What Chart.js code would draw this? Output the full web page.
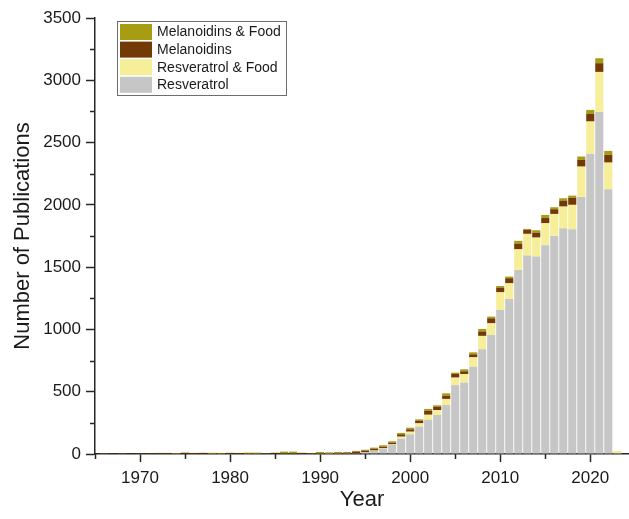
<!DOCTYPE html>
<html>
<head>
<meta charset="utf-8">
<script src="https://cdn.jsdelivr.net/npm/chart.js@4/dist/chart.umd.min.js"></script>
<style>
  html, body { margin: 0; padding: 0; background: #ffffff; }
  #wrap { width: 629px; height: 519px; }
</style>
</head>
<body>
<div id="wrap"><canvas id="c" width="629" height="519"></canvas></div>
<script>
// ---- Data ----
const years = [
  1965, 1966, 1967, 1968, 1969, 1970, 1971, 1972, 1973, 1974,
  1975, 1976, 1977, 1978, 1979, 1980, 1981, 1982, 1983, 1984,
  1985, 1986, 1987, 1988, 1989, 1990, 1991, 1992, 1993, 1994,
  1995, 1996, 1997, 1998, 1999, 2000, 2001, 2002, 2003, 2004,
  2005, 2006, 2007, 2008, 2009, 2010, 2011, 2012, 2013, 2014,
  2015, 2016, 2017, 2018, 2019, 2020, 2021, 2022, 2023
];
const resveratrol = [
  0, 0, 0, 0, 0, 0, 0, 0, 0, 0,
  0, 0, 0, 0, 0, 0, 0, 0, 0, 0,
  0, 0, 0, 0, 0, 0, 1, 2, 2, 5,
  12, 26, 44, 72, 123, 158, 219, 275, 313, 393,
  553, 573, 701, 840, 956, 1156, 1245, 1478, 1593, 1585,
  1676, 1751, 1813, 1804, 2064, 2409, 2746, 2125, 5
];
const resveratrolFood = [
  0, 0, 0, 0, 0, 0, 0, 0, 0, 0,
  0, 0, 0, 0, 0, 0, 0, 0, 0, 0,
  0, 0, 0, 0, 0, 0, 0, 0, 0, 1,
  1, 2, 3, 5, 16, 21, 27, 40, 40, 49,
  60, 69, 75, 108, 93, 142, 125, 165, 174, 152,
  176, 176, 173, 196, 243, 260, 321, 214, 20
];
const melanoidins = [
  0, 6, 2, 6, 2, 3, 2, 7, 7, 3,
  9, 7, 8, 3, 3, 7, 7, 3, 3, 4,
  8, 5, 5, 8, 4, 4, 7, 5, 10, 14,
  15, 13, 12, 14, 19, 19, 22, 33, 27, 26,
  29, 22, 24, 36, 40, 38, 41, 46, 32, 40,
  42, 38, 48, 56, 54, 61, 70, 62, 0
];
const melanoidinsFood = [
  0, 2, 0, 2, 0, 1, 1, 2, 2, 5,
  3, 2, 2, 6, 6, 3, 2, 8, 8, 2,
  3, 14, 14, 2, 3, 12, 5, 9, 4, 5,
  6, 10, 11, 11, 11, 13, 10, 14, 11, 19,
  11, 16, 16, 20, 14, 13, 13, 22, 8, 19,
  25, 16, 19, 18, 27, 32, 40, 32, 0
];
const yTickValues = [0, 500, 1000, 1500, 2000, 2500, 3000, 3500];
const xTickValues = [1970, 1980, 1990, 2000, 2010, 2020];
const xMinorTicks = [1965, 1975, 1985, 1995, 2005, 2015];
const yMinorTicks = [250, 750, 1250, 1750, 2250, 2750, 3250];

// ---- Styles ----
const AXIS_COLOR = '#262626';
const TEXT_COLOR = '#1a1a1a';
const FONT = "'Liberation Sans', Arial, Helvetica, sans-serif";
Chart.defaults.font.family = FONT;

const toXY = arr => arr.map((v, i) => ({ x: years[i], y: v }));

// minor ticks drawn through the scales
const minorTicks = {
  id: 'minorTicks',
  afterDraw(chart) {
    const { ctx, scales: { x, y } } = chart;
    ctx.save();
    ctx.strokeStyle = AXIS_COLOR;
    ctx.lineWidth = 1.5;
    ctx.beginPath();
    xMinorTicks.forEach(v => {
      const px = Math.round(x.getPixelForValue(v)) + 0.5;
      ctx.moveTo(px, x.top);
      ctx.lineTo(px, x.top + 5);
    });
    yMinorTicks.forEach(v => {
      const py = Math.round(y.getPixelForValue(v)) + 0.5;
      ctx.moveTo(y.right - 5, py);
      ctx.lineTo(y.right, py);
    });
    ctx.stroke();
    ctx.restore();
  }
};

// legend box inside the plot (top-left), built from the datasets
const legendBox = {
  id: 'legendBox',
  afterDraw(chart) {
    const ctx = chart.ctx;
    const left = 117, top = 21, width = 169, height = 74;
    const swW = 32, swH = 16, rowH = 17.6;
    ctx.save();
    ctx.fillStyle = '#ffffff';
    ctx.fillRect(left, top, width, height);
    ctx.strokeStyle = '#6e6e6e';
    ctx.lineWidth = 1;
    ctx.strokeRect(left + 0.5, top + 0.5, width, height);
    const ds = chart.data.datasets.slice().reverse();
    ctx.font = '14px ' + FONT;
    ctx.textBaseline = 'middle';
    ctx.textAlign = 'left';
    ds.forEach((d, i) => {
      const y = top + 3 + i * rowH;
      ctx.fillStyle = d.backgroundColor;
      ctx.fillRect(left + 3, y, swW, swH);
      ctx.fillStyle = TEXT_COLOR;
      ctx.fillText(d.label, left + 40, y + swH / 2 + 0.5);
    });
    ctx.restore();
  }
};

new Chart(document.getElementById('c'), {
  type: 'bar',
  data: {
    datasets: [
      { label: 'Resveratrol', data: toXY(resveratrol), backgroundColor: '#C6C6C6' },
      { label: 'Resveratrol & Food', data: toXY(resveratrolFood), backgroundColor: '#F6EE98' },
      { label: 'Melanoidins', data: toXY(melanoidins), backgroundColor: '#733A07' },
      { label: 'Melanoidins & Food', data: toXY(melanoidinsFood), backgroundColor: '#A79D13' }
    ]
  },
  options: {
    responsive: false,
    animation: false,
    devicePixelRatio: 1,
    layout: { padding: { top: 18, right: 0, bottom: 0, left: 0 } },
    datasets: { bar: { categoryPercentage: 1, barPercentage: 0.9, borderWidth: 0 } },
    plugins: { legend: { display: false }, tooltip: { enabled: false } },
    scales: {
      x: {
        type: 'linear',
        stacked: true,
        min: 1965,
        max: 2024.3,
        offset: false,
        grid: { display: true, drawOnChartArea: false, drawTicks: true, offset: false,
                tickLength: 8, tickColor: AXIS_COLOR, tickWidth: 1.5 },
        border: { display: true, color: AXIS_COLOR, width: 1.5 },
        afterBuildTicks: s => { s.ticks = xTickValues.map(v => ({ value: v })); },
        ticks: { padding: 6, color: TEXT_COLOR, font: { size: 17 }, maxRotation: 0,
                 autoSkip: false, callback: v => String(v) },
        title: { display: true, text: 'Year', color: TEXT_COLOR, font: { size: 22 },
                 padding: { top: 0, bottom: 6 } },
        afterFit: s => { s.height = 65; }
      },
      y: {
        stacked: true,
        min: 0,
        max: 3500,
        grid: { display: true, drawOnChartArea: false, drawTicks: true,
                tickLength: 9, tickColor: AXIS_COLOR, tickWidth: 1.5 },
        border: { display: true, color: AXIS_COLOR, width: 1.5 },
        afterBuildTicks: s => { s.ticks = yTickValues.map(v => ({ value: v })); },
        ticks: { padding: 5, color: TEXT_COLOR, font: { size: 17 }, callback: v => String(v) },
        title: { display: true, text: 'Number of Publications', color: TEXT_COLOR,
                 font: { size: 22 }, padding: { top: 10, bottom: 0 } },
        afterFit: s => { s.width = 95; }
      }
    }
  },
  plugins: [minorTicks, legendBox]
});
</script>
</body>
</html>
